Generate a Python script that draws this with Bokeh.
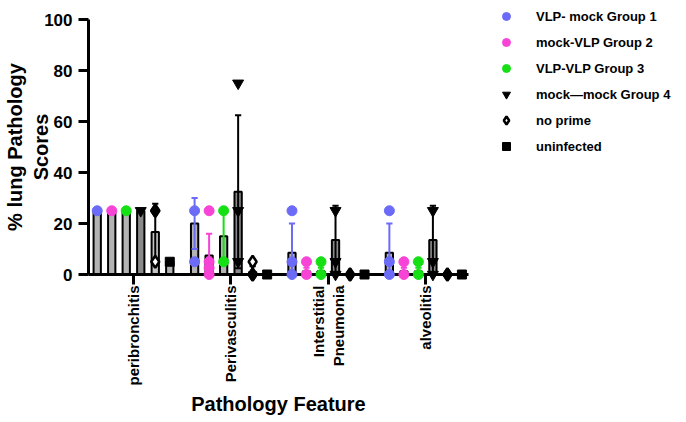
from math import pi
from bokeh.plotting import figure
from bokeh.models import Range1d, FixedTicker, Legend, LegendItem
from bokeh.embed import file_html
from bokeh.resources import INLINE

# ---------------- data ----------------
categories = ["peribronchitis", "Perivasculitis", "Interstitial\nPneumonia", "alveolitis"]
groups = ["VLP- mock Group 1", "mock-VLP Group 2", "VLP-VLP Group 3",
          "mock\u2014mock Group 4", "no prime", "uninfected"]

g1_mean = [25, 20, 8.5, 8.5]
g1_sd = [0, 10, 11.5, 11.5]
g1_points = [[25], [25, 5], [25, 5, 0], [25, 5, 0]]

g2_mean = [25, 7.5, 1.25, 1.25]
g2_sd = [0, 8.5, 1.4, 1.4]
g2_points = [[25], [25, 5, 2.5, 0], [5, 0], [5, 0]]

g3_mean = [25, 15, 1.25, 1.25]
g3_sd = [0, 10, 1.4, 1.4]
g3_points = [[25], [25, 5], [5, 0], [5, 0]]

g4_mean = [25, 32.5, 13.5, 13.5]
g4_sd = [0, 30, 13.5, 13.5]
g4_points = [[25], [75, 25, 5], [25, 5, 0], [25, 5, 0]]

np_mean = [16.7, 1, 0, 0]
np_sd = [11, 2.2, 0, 0]
np_points = [[25, 25, 5], [5, 0, 0], [0, 0], [0, 0]]

un_mean = [5, 0, 0, 0]
un_sd = [0, 0, 0, 0]
un_points = [[5], [0], [0], [0]]

y_ticks = [0, 20, 40, 60, 80, 100]

# ---------------- styling ----------------
means = [g1_mean, g2_mean, g3_mean, g4_mean, np_mean, un_mean]
sds = [g1_sd, g2_sd, g3_sd, g4_sd, np_sd, un_sd]
points = [g1_points, g2_points, g3_points, g4_points, np_points, un_points]
point_colors = ["#6b6bf7", "#f743d6", "#14e014", "black", "black", "black"]
bar_fills = ["#b3b3b3", "#b3b3b3", "#b3b3b3", "#8a8a8a", "#c4c4c4", "#b3b3b3"]
markers = ["circle", "circle", "circle", "inverted_triangle", "diamond", "square"]
msizes = [10, 10, 10, 11, 12, 9]

FONT = "Liberation Sans"
step = 0.149
bar_w = 0.075
cap = 0.032

p = figure(frame_width=380, frame_height=255, output_backend="svg", toolbar_location=None,
           x_range=Range1d(-0.462, 3.44), y_range=Range1d(0, 100),
           min_border_left=85, min_border_right=0, min_border_top=19, min_border_bottom=0)
p.outline_line_color = None
p.grid.visible = False
p.background_fill_color = "white"

legend_items = []
for k in range(6):
    xs = [i + (k - 2.5) * step for i in range(len(categories))]
    p.vbar(x=xs, top=means[k], width=bar_w, bottom=0, fill_color=bar_fills[k],
           line_color="black", line_width=2)
    x0, y0, y1, cx0, cx1, cy = [], [], [], [], [], []
    for i, (m, s) in enumerate(zip(means[k], sds[k])):
        if s <= 0:
            continue
        lo = max(0, m - s)
        hi = m + s
        x0.append(xs[i]); y0.append(lo); y1.append(hi)
        cx0.append(xs[i] - cap); cx1.append(xs[i] + cap); cy.append(hi)
        if m - s > 0:
            cx0.append(xs[i] - cap); cx1.append(xs[i] + cap); cy.append(lo)
    if x0:
        p.segment(x0=x0, y0=y0, x1=x0, y1=y1, line_color=point_colors[k], line_width=2)
        p.segment(x0=cx0, y0=cy, x1=cx1, y1=cy, line_color=point_colors[k], line_width=2)
    if k == 4:
        # overlapping hollow diamonds read as solid; single ones stay hollow
        hx, hy, fx, fy = [], [], [], []
        for i, vals in enumerate(points[k]):
            for v in vals:
                if vals.count(v) > 1:
                    fx.append(xs[i]); fy.append(v)
                else:
                    hx.append(xs[i]); hy.append(v)
        rf = p.scatter(x=fx, y=fy, marker="diamond", size=msizes[k],
                       fill_color="black", line_color="black", line_width=2.5)
        rf.level = "overlay"
        r = p.scatter(x=hx, y=hy, marker="diamond", size=msizes[k],
                      fill_color="white", line_color="black", line_width=2.5)
        r.level = "overlay"
    else:
        px, py = [], []
        for i, vals in enumerate(points[k]):
            for v in vals:
                px.append(xs[i]); py.append(v)
        r = p.scatter(x=px, y=py, marker=markers[k], size=msizes[k],
                      fill_color=point_colors[k], line_color=point_colors[k], line_width=1)
        r.level = "overlay"
    legend_items.append(LegendItem(label=groups[k], renderers=[r]))

legend = Legend(items=legend_items, location=(8, 118), padding=0, margin=0,
                glyph_width=60, glyph_height=20, label_height=20, label_standoff=0,
                spacing=6, border_line_color=None, background_fill_alpha=0,
                label_text_font=FONT, label_text_font_style="bold",
                label_text_font_size="13px", label_text_color="black")
p.add_layout(legend, "right")

# axes
ya = p.yaxis[0]
ya.ticker = FixedTicker(ticks=y_ticks)
ya.axis_line_width = 3
ya.major_tick_line_width = 3
ya.major_tick_out = 10
ya.major_tick_in = 0
ya.minor_tick_line_color = None
ya.major_label_standoff = 6
ya.major_label_text_font = FONT
ya.major_label_text_font_style = "bold"
ya.major_label_text_font_size = "17px"
ya.major_label_text_color = "black"
ya.axis_label = "% lung Pathology\nScores"
ya.axis_label_standoff = -11
ya.axis_label_text_font = FONT
ya.axis_label_text_font_style = "bold"
ya.axis_label_text_font_size = "20px"
ya.axis_label_text_line_height = 1.2
ya.axis_label_text_color = "black"

xa = p.xaxis[0]
xa.ticker = FixedTicker(ticks=list(range(len(categories))))
xa.major_label_overrides = {i: c for i, c in enumerate(categories)}
xa.major_label_orientation = pi / 2
xa.axis_line_width = 3
xa.major_tick_line_width = 3
xa.major_tick_out = 10
xa.major_tick_in = 0
xa.minor_tick_line_color = None
xa.major_label_standoff = 1
xa.major_label_text_font = FONT
xa.major_label_text_font_style = "bold"
xa.major_label_text_font_size = "15px"
xa.major_label_text_color = "black"
xa.axis_label = "Pathology Feature"
xa.axis_label_standoff = 4
xa.axis_label_text_font = FONT
xa.axis_label_text_font_style = "bold"
xa.axis_label_text_font_size = "20px"
xa.axis_label_text_color = "black"

open("out.html", "w").write(file_html(p, INLINE))
